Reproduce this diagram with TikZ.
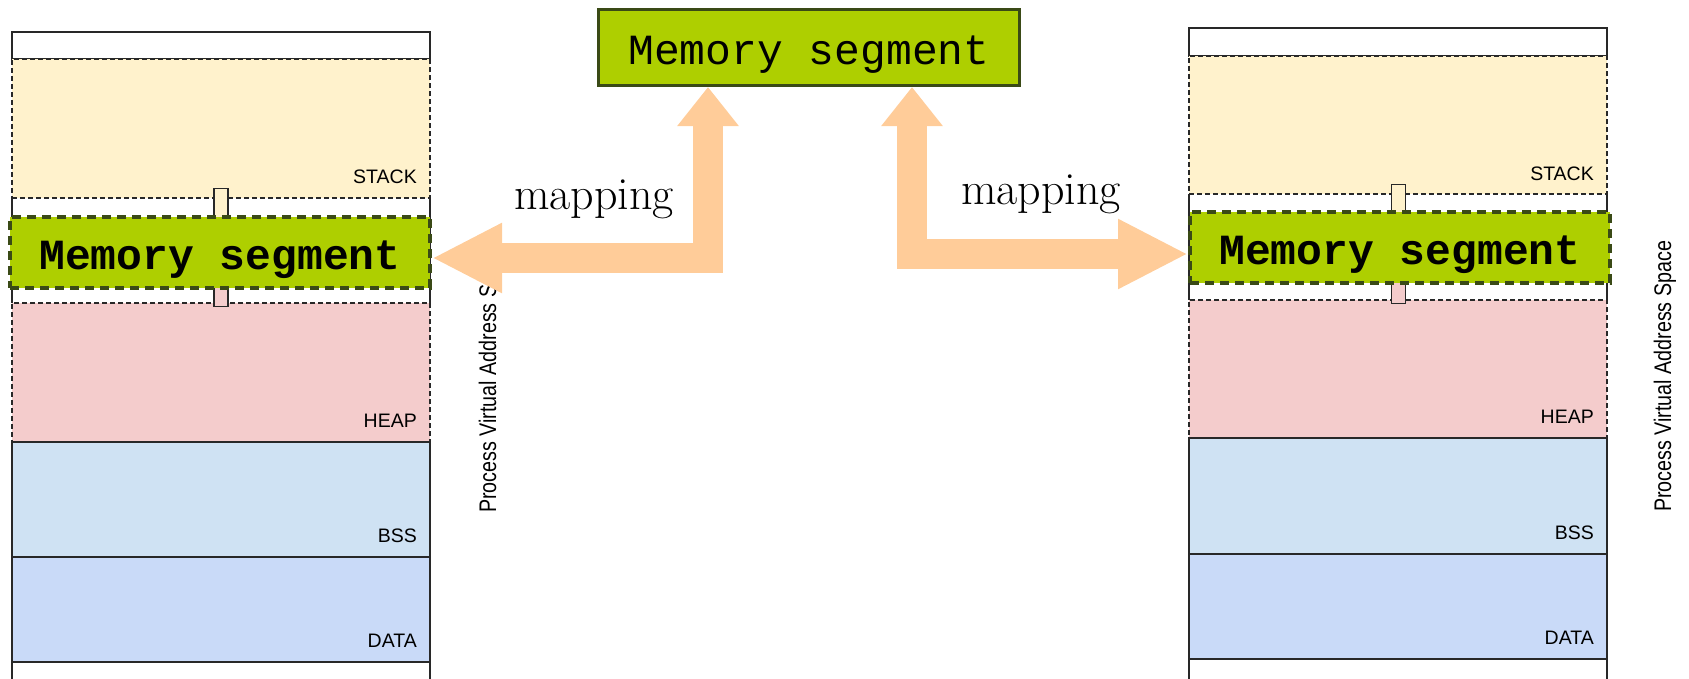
\documentclass[tikz,border=0pt]{standalone}
\usepackage{fontspec}
\usetikzlibrary{arrows.meta}
\newfontfamily\segfont{Liberation Mono}
\newfontfamily\bandfont{Liberation Sans}
\newfontfamily\sidefont[FakeStretch=0.82]{Liberation Sans}
\definecolor{segfill}{RGB}{174,207,0}
\definecolor{segline}{RGB}{58,74,22}
\definecolor{stackc}{HTML}{FFF2CC}
\definecolor{heapc}{HTML}{F4CCCC}
\definecolor{bssc}{HTML}{CFE2F3}
\definecolor{datac}{HTML}{C9DAF8}
\definecolor{mapc}{HTML}{FFCC99}
\definecolor{bandline}{RGB}{40,40,40}
\tikzset{
  band/.style={rectangle, draw=bandline, line width=1.2pt, anchor=north west,
    minimum width=418pt, inner sep=0pt, outer sep=0pt},
  dashband/.style={band, dash pattern=on 5pt off 3pt},
  bandedge/.style={draw=bandline, line width=1.2pt},
  bandlabel/.style={anchor=base east, inner sep=0pt,
    font=\bandfont\fontsize{19.5}{22}\selectfont},
  growbar/.style={rectangle, draw=bandline, line width=1.2pt, minimum width=14pt,
    minimum height=40pt, inner sep=0pt},
  segbox/.style={rectangle, fill=segfill, draw=segline, minimum width=420pt,
    minimum height=71pt, inner sep=0pt, text height=33pt, text depth=0pt},
  sideseg/.style={segbox, line width=4pt, dash pattern=on 9pt off 6pt,
    font=\segfont\bfseries\fontsize{43}{50}\selectfont},
  maparrow/.style={draw=mapc, line width=30pt, line join=miter,
    {Triangle[length=39pt,width=59pt]}-{Triangle[length=70pt,width=65pt]}},
  maplabel/.style={anchor=base, inner sep=0pt, font=\fontsize{46}{52}\selectfont},
  vaslabel/.style={anchor=west, rotate=90, inner sep=0pt,
    font=\sidefont\fontsize{24}{26}\selectfont},
}
\begin{document}
\begin{tikzpicture}[x=1pt, y=-1pt]
    \useasboundingbox (0,0) rectangle (1689,678);

    % Left address space
    \node (ltop) [band, minimum height=27pt] at (12,32) {};
    \node (lstack) [dashband, fill=stackc, minimum height=139pt] at (12,59) {};
    \node (lheap) [dashband, fill=heapc, minimum height=139pt] at (12,303) {};
    \node (lbss) [band, fill=bssc, minimum height=115pt] at (12,442) {};
    \node (ldata) [band, fill=datac, minimum height=105pt] at (12,557) {};
    \node (lfoot) [band, minimum height=40pt] at (12,662) {};
    \draw[bandedge] (lstack.south west) -- (lheap.north west);
    \draw[bandedge] (lstack.south east) -- (lheap.north east);
    \node (lstacklbl) [bandlabel] at ([shift={(-13pt,15pt)}]lstack.south east) {STACK};
    \node (lheaplbl) [bandlabel] at ([shift={(-13pt,15pt)}]lheap.south east) {HEAP};
    \node (lbsslbl) [bandlabel] at ([shift={(-13pt,15pt)}]lbss.south east) {BSS};
    \node (ldatalbl) [bandlabel] at ([shift={(-13pt,15pt)}]ldata.south east) {DATA};
    \node (lsgrow) [growbar, fill=stackc, anchor=north] at (221,188) {};
    \node (lhgrow) [growbar, fill=heapc, anchor=south] at (221,307) {};
    \node (lseg) [sideseg] at (220,252.5) {Memory segment};

    % Right address space
    \node (rtop) [band, minimum height=28pt] at (1189,28) {};
    \node (rstack) [dashband, fill=stackc, minimum height=138pt] at (1189,56) {};
    \node (rheap) [dashband, fill=heapc, minimum height=138pt] at (1189,300) {};
    \node (rbss) [band, fill=bssc, minimum height=116pt] at (1189,438) {};
    \node (rdata) [band, fill=datac, minimum height=105pt] at (1189,554) {};
    \node (rfoot) [band, minimum height=40pt] at (1189,659) {};
    \draw[bandedge] (rstack.south west) -- (rheap.north west);
    \draw[bandedge] (rstack.south east) -- (rheap.north east);
    \node (rstacklbl) [bandlabel] at ([shift={(-13pt,14pt)}]rstack.south east) {STACK};
    \node (rheaplbl) [bandlabel] at ([shift={(-13pt,15pt)}]rheap.south east) {HEAP};
    \node (rbsslbl) [bandlabel] at ([shift={(-13pt,15pt)}]rbss.south east) {BSS};
    \node (rdatalbl) [bandlabel] at ([shift={(-13pt,15pt)}]rdata.south east) {DATA};
    \node (rsgrow) [growbar, fill=stackc, anchor=north] at (1398.5,184) {};
    \node (rhgrow) [growbar, fill=heapc, anchor=south] at (1398.5,304) {};
    \node (rseg) [sideseg] at (1400,247.5) {Memory segment};

    % Shared segment
    \node (topseg) [segbox, line width=3pt, minimum width=421pt, minimum height=76pt,
        font=\segfont\fontsize{43}{50}\selectfont] at (809,47.5) {Memory segment};

    % Side captions
    \begin{scope}
        \clip (440,283) rectangle (540,540);
        \node (lvas) [vaslabel] at (490,513) {Process Virtual Address Space};
    \end{scope}
    \node (rvas) [vaslabel] at (1665,512) {Process Virtual Address Space};

    % Mappings
    \draw[maparrow] ([xshift=-101pt]topseg.south) |- ([yshift=-5.5pt]lseg.east);
    \draw[maparrow] ([xshift=103pt]topseg.south) |- ([yshift=-6.5pt]rseg.west);
    \node (lmap) [maplabel] at (594,209) {mapping};
    \node (rmap) [maplabel] at (1041,204) {mapping};

\end{tikzpicture}
\end{document}
